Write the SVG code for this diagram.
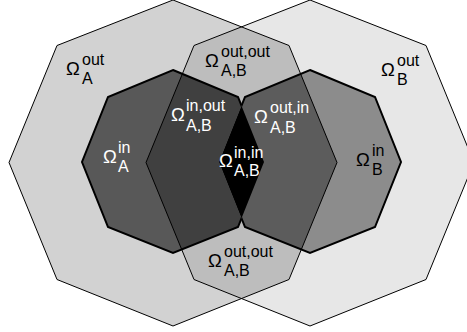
<svg xmlns="http://www.w3.org/2000/svg" width="467" height="332" viewBox="0 0 467 332">
<style>
text{font-family:"Liberation Sans",Arial,sans-serif;}
.om{font-size:18.5px;}
.sm{font-size:16px;}
.w{fill:#ffffff;}
.k{fill:#000000;}
.thin{fill:none;stroke:#000;stroke-width:1;stroke-linejoin:miter;}
.thick{fill:none;stroke:#000;stroke-width:2;stroke-linejoin:miter;}
</style>
<defs>
<polygon id="pOA" points="173,0 289,45.5 337,162.5 289,279.5 173,326 57,279.5 9,162.5 57,45.5"/>
<polygon id="pOB" points="310,0 426,45.5 474,162.5 426,279.5 310,326 194,279.5 146,162.5 194,45.5"/>
<polygon id="pIA" points="173,70 238,97 264,162 238,227 173,253 108,227 82,162 108,97"/>
<polygon id="pIB" points="310,70 375,97 401,162 375,227 310,253 245,227 219,162 245,97"/>
<clipPath id="cOA"><use href="#pOA"/></clipPath>
<clipPath id="cOB"><use href="#pOB"/></clipPath>
<clipPath id="cIA"><use href="#pIA"/></clipPath>
<mask id="mNotIB" maskUnits="userSpaceOnUse" x="0" y="0" width="467" height="332">
<rect x="0" y="0" width="467" height="332" fill="#fff"/>
<use href="#pIB" fill="#000"/>
</mask>
<mask id="mNotIA" maskUnits="userSpaceOnUse" x="0" y="0" width="467" height="332">
<rect x="0" y="0" width="467" height="332" fill="#fff"/>
<use href="#pIA" fill="#000"/>
</mask>
</defs>
<rect width="467" height="332" fill="#ffffff"/>
<g id="outerA"><use href="#pOA" fill="#d2d2d2"/></g>
<g id="outerB"><use href="#pOB" fill="#e7e7e7"/>
<use href="#pOB" fill="#bdbdbd" clip-path="url(#cOA)"/></g>
<g id="innerA"><use href="#pIA" fill="#585858"/>
<use href="#pIA" fill="#404040" clip-path="url(#cOB)"/></g>
<g id="innerB"><use href="#pIB" fill="#8c8c8c"/>
<use href="#pIB" fill="#5c5c5c" clip-path="url(#cOA)"/>
<use href="#pIB" fill="#000000" clip-path="url(#cIA)"/></g>
<g id="outlines">
<use href="#pOA" class="thin"/>
<use href="#pOB" class="thin"/>
<use href="#pIA" class="thick" mask="url(#mNotIB)"/>
<use href="#pIB" class="thick" mask="url(#mNotIA)"/>
</g>
<g id="labels">
<g id="lOutA" class="k"><text class="om" x="66" y="75">Ω</text><text class="sm" x="82" y="65">out</text><text class="sm" x="82" y="84">A</text></g>
<g id="lOutB" class="k"><text class="om" x="381" y="76">Ω</text><text class="sm" x="397" y="66">out</text><text class="sm" x="397" y="85">B</text></g>
<g id="lOutOutTop" class="k"><text class="om" x="205" y="67">Ω</text><text class="sm" x="221" y="57">out,out</text><text class="sm" x="221" y="76">A,B</text></g>
<g id="lOutOutBot" class="k"><text class="om" x="208" y="267">Ω</text><text class="sm" x="224" y="257">out,out</text><text class="sm" x="224" y="276">A,B</text></g>
<g id="lInA" class="w"><text class="om" x="103" y="163">Ω</text><text class="sm" x="118" y="153">in</text><text class="sm" x="118" y="172">A</text></g>
<g id="lInOut" class="w"><text class="om" x="171" y="121">Ω</text><text class="sm" x="186" y="111">in,out</text><text class="sm" x="186" y="131">A,B</text></g>
<g id="lOutIn" class="w"><text class="om" x="254" y="123">Ω</text><text class="sm" x="270" y="113">out,in</text><text class="sm" x="270" y="133">A,B</text></g>
<g id="lInIn" class="w"><text class="om" x="219" y="167">Ω</text><text class="sm" x="234" y="158">in,in</text><text class="sm" x="234" y="176">A,B</text></g>
<g id="lInB" class="k"><text class="om" x="356" y="166">Ω</text><text class="sm" x="372" y="156">in</text><text class="sm" x="372" y="175">B</text></g>
</g>
</svg>
